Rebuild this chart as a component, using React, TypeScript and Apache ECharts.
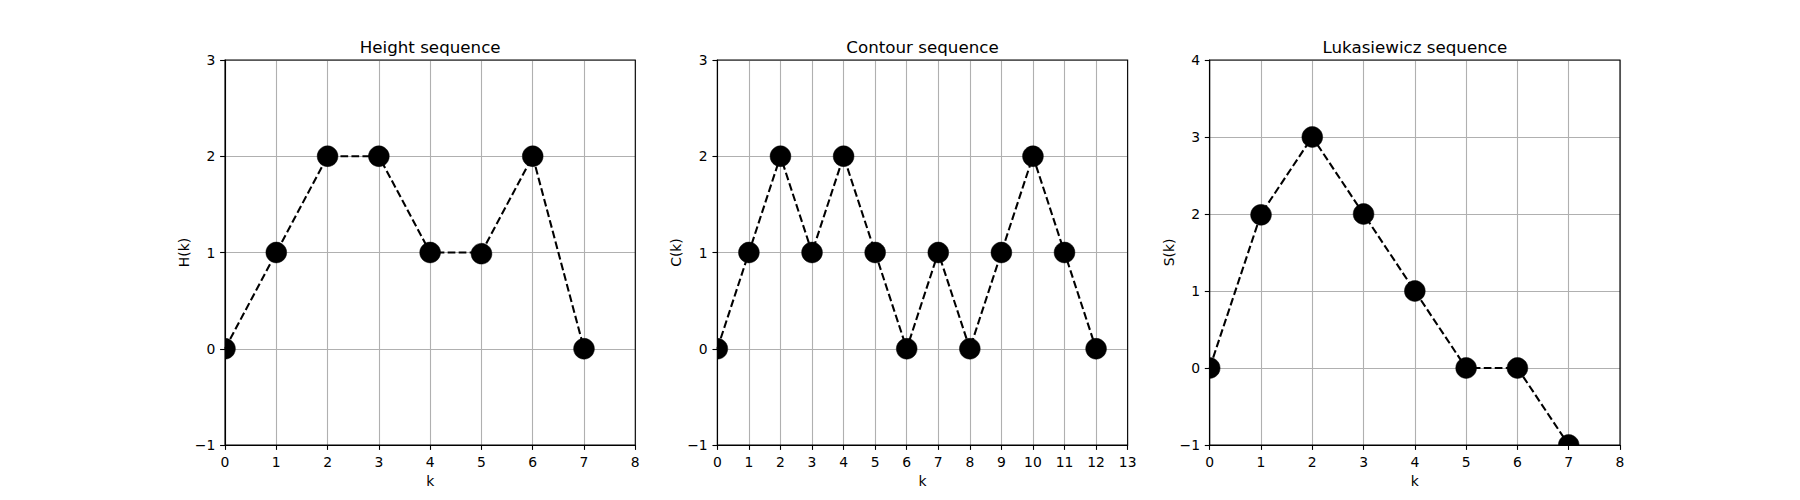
import React, { useEffect, useRef } from "react";
import * as echarts from "echarts";

// ---- data ----
const heightK = [0, 1, 2, 3, 4, 5, 6, 7];
const heightVals = [0, 1, 2, 2, 1, 1, 2, 0];
const contourK = [0, 1, 2, 3, 4, 5, 6, 7, 8, 9, 10, 11, 12];
const contourVals = [0, 1, 2, 1, 2, 1, 0, 1, 0, 1, 2, 1, 0];
const lukaK = [0, 1, 2, 3, 4, 5, 6, 7];
const lukaVals = [0, 2, 3, 2, 1, 0, 0, -1];

const titles = ["Height sequence", "Contour sequence", "Lukasiewicz sequence"];
const yNames = ["H(k)", "C(k)", "S(k)"];
const xName = "k";
const xMax = [8, 13, 8];
const yMin = [-1, -1, -1];
const yMax = [3, 3, 4];

// ---- layout ----
const FIG_W = 1800;
const FIG_H = 500;
const AX_LEFT = 225;
const AX_W = 410.29;
const AX_GAP = 82.06;
const AX_TOP = 60;
const AX_H = 385;
const FONT = "DejaVu Sans";

const fmt = (v: number) => String(v).replace("-", "\u2212");

export default function App() {
  const ref = useRef<HTMLDivElement>(null);

  useEffect(() => {
    document.body.style.margin = "0";
    if (!ref.current) return;
    const chart = echarts.init(ref.current, undefined, { renderer: "svg" });

    const ks = [heightK, contourK, lukaK];
    const vals = [heightVals, contourVals, lukaVals];
    const lefts = [0, 1, 2].map((i) => AX_LEFT + i * (AX_W + AX_GAP));

    const grids = lefts.map((l) => ({
      left: l,
      top: AX_TOP,
      width: AX_W,
      height: AX_H,
      containLabel: false,
    }));

    const tickStyle = { color: "#000", fontFamily: FONT, fontSize: 13.9 };

    const xAxes = [0, 1, 2].map((i) => ({
      type: "value",
      gridIndex: i,
      min: 0,
      max: xMax[i],
      interval: 1,
      name: xName,
      nameLocation: "middle",
      nameGap: 27,
      nameTextStyle: { color: "#000", fontFamily: FONT, fontSize: 13.9 },
      axisLine: { show: true, onZero: false, lineStyle: { color: "#000", width: 1.1 } },
      axisTick: { show: true, length: 4.9, lineStyle: { color: "#000", width: 1.1 } },
      axisLabel: { ...tickStyle, margin: 9.7, formatter: fmt, showMinLabel: true, showMaxLabel: true },
      splitLine: { show: true, lineStyle: { color: "#b0b0b0", width: 1.1 } },
    }));

    const yAxes = [0, 1, 2].map((i) => ({
      type: "value",
      gridIndex: i,
      min: yMin[i],
      max: yMax[i],
      interval: 1,
      name: yNames[i],
      nameLocation: "middle",
      nameRotate: 90,
      nameGap: 34,
      nameTextStyle: { color: "#000", fontFamily: FONT, fontSize: 13.9 },
      axisLine: { show: true, onZero: false, lineStyle: { color: "#000", width: 1.1 } },
      axisTick: { show: true, length: 4.9, lineStyle: { color: "#000", width: 1.1 } },
      axisLabel: { ...tickStyle, margin: 9.7, formatter: fmt, showMinLabel: true, showMaxLabel: true },
      splitLine: { show: true, lineStyle: { color: "#b0b0b0", width: 1.1 } },
    }));

    const series: any[] = [];
    [0, 1, 2].forEach((i) => {
      const data = ks[i].map((k, j) => [k, vals[i][j]]);
      series.push({
        type: "line",
        xAxisIndex: i,
        yAxisIndex: i,
        data,
        symbol: "none",
        clip: true,
        z: 2,
        lineStyle: { color: "#000", width: 2.08, type: [7.7, 3.3] },
      });
      series.push({
        type: "custom",
        xAxisIndex: i,
        yAxisIndex: i,
        data,
        clip: true,
        z: 3,
        encode: { x: 0, y: 1 },
        renderItem: (_params: any, api: any) => {
          const p = api.coord([api.value(0), api.value(1)]);
          return {
            type: "circle",
            shape: { cx: p[0], cy: p[1], r: 10.4 },
            style: { fill: "#000", stroke: "#000", lineWidth: 0.5 },
          };
        },
      });
    });

    const title = lefts.map((l, i) => ({
      text: titles[i],
      left: l + AX_W / 2,
      top: 38,
      textAlign: "center",
      padding: 0,
      textStyle: { color: "#000", fontFamily: FONT, fontSize: 16.7, fontWeight: "normal" },
    }));

    const graphic = lefts.map((l) => ({
      type: "rect",
      silent: true,
      z: 100,
      shape: { x: l, y: AX_TOP, width: AX_W, height: AX_H },
      style: { fill: "none", stroke: "#000", lineWidth: 1.1 },
    }));

    chart.setOption({
      animation: false,
      backgroundColor: "#fff",
      title,
      grid: grids,
      xAxis: xAxes,
      yAxis: yAxes,
      series,
      graphic,
    });

    return () => chart.dispose();
  }, []);

  return <div ref={ref} style={{ width: FIG_W, height: FIG_H }} />;
}
